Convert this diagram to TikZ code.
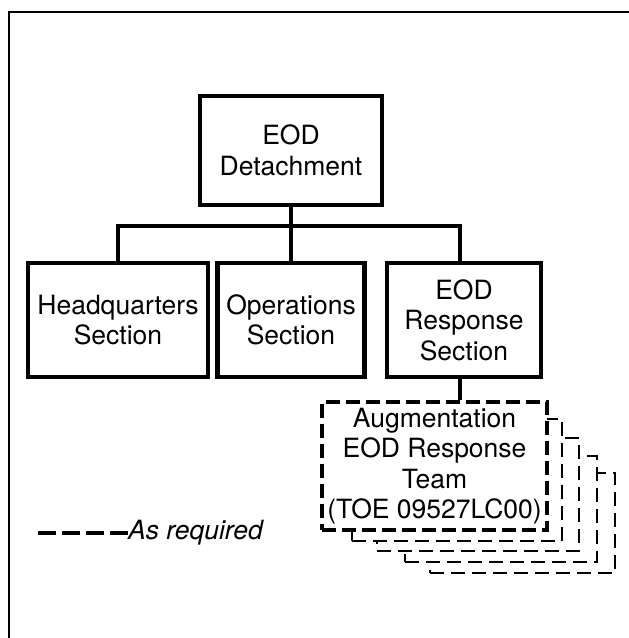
\documentclass[tikz,border=0pt]{standalone}
\usepackage{fontspec}
\setmainfont{TeX Gyre Heros}
\begin{document}
\begin{tikzpicture}[x=1pt,y=-1pt,
  lbl/.style={font=\fontsize{26.5}{30.5}\selectfont, align=center, inner sep=0pt},
  unit/.style={lbl, draw, line width=4.5pt, fill=white},
  augbox/.style={lbl, draw, line width=3.5pt, dash pattern=on 14pt off 6pt, fill=white},
  stackbox/.style={draw, line width=2pt, dash pattern=on 14pt off 7pt, fill=white, inner sep=0pt},
  conn/.style={line width=4.5pt},
  legdash/.style={line width=3.5pt, dash pattern=on 18pt off 6pt}]
\useasboundingbox (0,0) rectangle (629,638);

% frame
\draw[line width=2.7pt] (9,638) -- (9,12) -- (629,12);

% top unit
\node[unit, minimum width=182pt, minimum height=109pt] (det) at (291,150.5) {EOD\\Detachment};

% sections
\node[unit, minimum width=180pt, minimum height=114pt] (hq)  at (118,320) {Headquarters\\Section};
\node[unit, minimum width=147pt, minimum height=114pt] (ops) at (291,320) {Operations\\Section};
\node[unit, minimum width=154pt, minimum height=114pt] (ers) at (464,320) {EOD\\Response\\Section};

% stacked augmentation teams (back to front)
\node[stackbox, minimum width=185pt, minimum height=100pt] (s4) at (522.5,523) {};
\node[stackbox, minimum width=192pt, minimum height=106pt] (s3) at (501,509) {};
\node[stackbox, minimum width=202pt, minimum height=113pt] (s2) at (478,494.5) {};
\node[stackbox, minimum width=210pt, minimum height=122pt] (s1) at (457,480) {};
\node[augbox, minimum width=225pt, minimum height=128pt] (aug) at (434.5,466)
  {Augmentation\\EOD Response\\Team\\(TOE 09527LC00)};

% connectors
\coordinate (bar) at (0,226);
\draw[conn] (det.south) -- (ops.north);
\draw[conn] (hq.north) -- (hq.north |- bar) -- ([xshift=-4pt]ers.north |- bar) -- ([xshift=-4pt]ers.north);
\draw[conn] ([xshift=-4pt]ers.south) -- ([xshift=-4pt]ers.south |- aug.north);

% legend
\node[lbl, anchor=base west, font=\fontsize{26.5}{30.5}\selectfont\itshape] (legtxt) at (128,539) {As required};
\coordinate (legstart) at (38,533);
\draw[legdash] (legstart) -- (legstart -| legtxt.west);
\end{tikzpicture}
\end{document}
